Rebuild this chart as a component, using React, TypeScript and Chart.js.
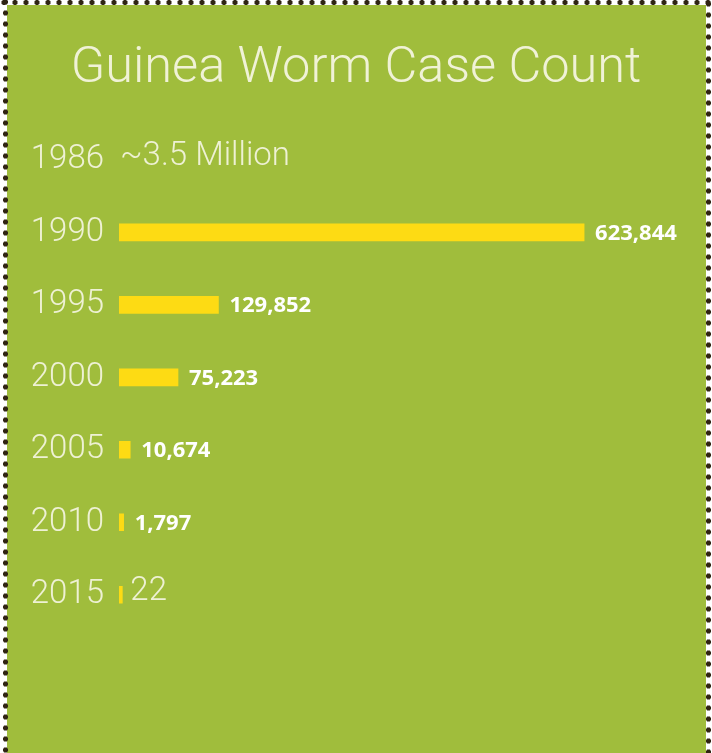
import React, { useEffect, useRef } from "react";
import { Chart, registerables } from "chart.js";

Chart.register(...registerables);

const chartTitle = "Guinea Worm Case Count";
const years = ["1986", "1990", "1995", "2000", "2005", "2010", "2015"];
const cases: (number | null)[] = [null, 623844, 129852, 75223, 10674, 1797, 22];
const valueLabels = ["~3.5 Million", "623,844", "129,852", "75,223", "10,674", "1,797", "22"];

const AXIS_MIN = -4500;
const AXIS_MAX = 775000;

const LIGHT_FONT = "Roboto, 'Liberation Sans', sans-serif";
const CREAM = "rgba(246,246,228,0.9)";

const valueLabelPlugin = {
  id: "valueLabels",
  afterDatasetsDraw(chart: any) {
    const ctx = chart.ctx;
    const meta = chart.getDatasetMeta(0);
    const yScale = chart.scales.y;
    const left = chart.chartArea.left;
    ctx.save();
    valueLabels.forEach((txt, i) => {
      const v = cases[i];
      const y = yScale.getPixelForValue(i);
      const el = meta.data[i];
      const light = v === null || v < 100;
      let x: number;
      if (v === null || !el || !isFinite(el.x)) {
        x = left + 1;
      } else {
        x = el.x + (light ? 8 : 11);
      }
      ctx.textAlign = "left";
      ctx.textBaseline = "middle";
      if (light) {
        ctx.font = "300 33px " + LIGHT_FONT;
        ctx.fillStyle = CREAM;
        ctx.fillText(txt, x, y - 3);
      } else {
        ctx.font = "700 22px 'Open Sans', sans-serif";
        ctx.fillStyle = "#ffffff";
        ctx.fillText(txt, x, y + 1);
      }
    });
    ctx.restore();
  },
};

const DOT = "radial-gradient(circle at center, #2f2413 0, #2f2413 2.3px, rgba(47,36,19,0) 2.9px)";

export default function App() {
  const ref = useRef<HTMLCanvasElement | null>(null);
  useEffect(() => {
    if (!ref.current) return;
    const chart = new Chart(ref.current, {
      type: "bar",
      data: {
        labels: years,
        datasets: [
          {
            data: cases as any,
            backgroundColor: "#fddb14",
            borderWidth: 0,
            barThickness: 17,
            base: AXIS_MIN,
          } as any,
        ],
      },
      options: {
        indexAxis: "y",
        responsive: false,
        animation: false,
        devicePixelRatio: 1,
        layout: { padding: { left: 16, right: 16, top: 0, bottom: 122 } },
        plugins: {
          legend: { display: false },
          tooltip: { enabled: false },
          title: {
            display: true,
            text: chartTitle,
            color: "rgba(246,246,228,0.92)",
            font: { family: LIGHT_FONT, size: 50.5, weight: "300" as any },
            padding: { top: 39, bottom: 24 },
          },
        },
        scales: {
          x: {
            type: "linear",
            display: false,
            min: AXIS_MIN,
            max: AXIS_MAX,
          },
          y: {
            type: "category",
            grid: { display: false, drawTicks: false },
            border: { display: false },
            ticks: {
              color: CREAM,
              font: { family: LIGHT_FONT, size: 33, weight: "300" as any },
              padding: 15,
            },
            afterFit: (axis: any) => {
              axis.width = 103;
            },
          },
        },
      },
      plugins: [valueLabelPlugin],
    });
    return () => chart.destroy();
  }, []);

  return (
    <div
      style={{
        position: "fixed",
        left: 0,
        top: 0,
        width: 712,
        height: 753,
        overflow: "hidden",
        background: "#ffffff",
      }}
    >
      <div
        style={{
          position: "absolute",
          left: 7,
          top: 5,
          width: 699,
          height: 800,
          backgroundColor: "#a0bd3c",
        }}
      />
      <div
        style={{
          position: "absolute",
          left: 0,
          top: 0,
          width: 712,
          height: 5,
          backgroundImage: DOT,
          backgroundSize: "11px 5px",
          backgroundRepeat: "repeat-x",
          backgroundPosition: "-1.5px 0",
        }}
      />
      <div
        style={{
          position: "absolute",
          left: 3,
          top: 0,
          width: 5,
          height: 753,
          backgroundImage: DOT,
          backgroundSize: "5px 11px",
          backgroundRepeat: "repeat-y",
          backgroundPosition: "0 -3.5px",
        }}
      />
      <div
        style={{
          position: "absolute",
          left: 705.5,
          top: 0,
          width: 5,
          height: 753,
          backgroundImage: DOT,
          backgroundSize: "5px 11px",
          backgroundRepeat: "repeat-y",
          backgroundPosition: "0 -1.5px",
        }}
      />
      <canvas
        ref={ref}
        width={712}
        height={753}
        style={{ position: "absolute", left: 0, top: 0, width: 712, height: 753 }}
      />
    </div>
  );
}
